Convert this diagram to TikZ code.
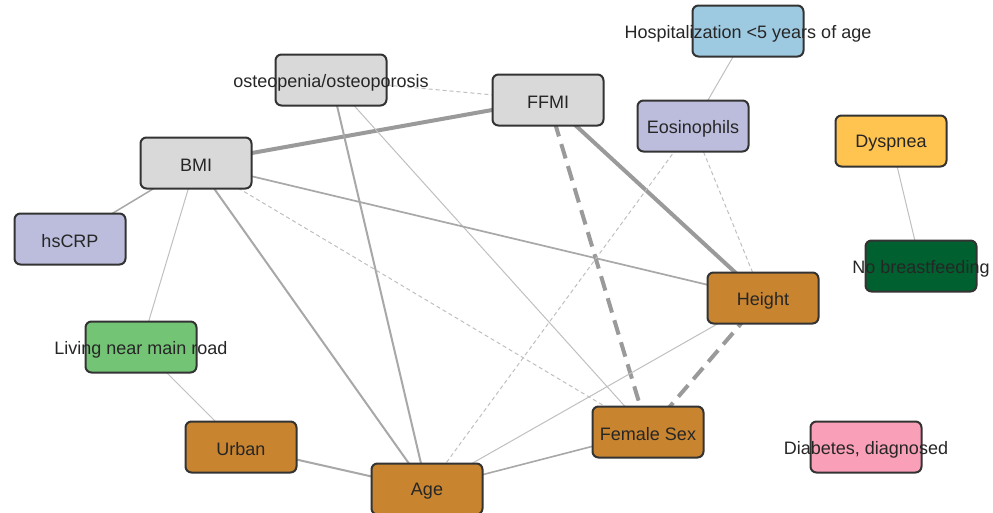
\documentclass[tikz,border=0pt]{standalone}
\usepackage{fontspec}
\setmainfont{Liberation Sans}
\usetikzlibrary{backgrounds}
\definecolor{boxline}{HTML}{333333}
\definecolor{cgrey}{HTML}{D9D9D9}
\definecolor{clav}{HTML}{BCBDDC}
\definecolor{cblue}{HTML}{9ECAE1}
\definecolor{cyel}{HTML}{FEC44F}
\definecolor{cdgreen}{HTML}{00602F}
\definecolor{cbrown}{HTML}{C8842F}
\definecolor{cgreen}{HTML}{74C476}
\definecolor{cpink}{HTML}{F99FB8}
\definecolor{ethick}{HTML}{9A9A9A}
\definecolor{emed}{HTML}{A8A8A8}
\definecolor{ethin}{HTML}{C0C0C0}
\tikzset{
  x=1pt,y=-1pt,
  nbox/.style={draw=boxline, line width=2pt, rounded corners=6pt,
    minimum width=111pt, minimum height=51pt, inner sep=0pt},
  ntext/.style={font=\fontsize{18}{21}\selectfont, text=black!85, yshift=-2.5pt},
  thickline/.style={draw=ethick, line width=4pt},
  thickdash/.style={draw=ethick, line width=4pt, dash pattern=on 15pt off 8pt},
  medline/.style={draw=emed, line width=2pt},
  thinline/.style={draw=ethin, line width=1pt},
  thindash/.style={draw=ethin, line width=1pt, dash pattern=on 4pt off 3pt},
}
\begin{document}
\begin{tikzpicture}
\useasboundingbox (0,0) rectangle (993,512);
\node[nbox, fill=cgrey,  label={[ntext]center:osteopenia/osteoporosis}] (ost) at (331,80) {};
\node[nbox, fill=cgrey,  label={[ntext]center:FFMI}] (ffmi) at (548,100) {};
\node[nbox, fill=cgrey,  label={[ntext]center:BMI}] (bmi) at (196,163) {};
\node[nbox, fill=clav,   label={[ntext]center:hsCRP}] (crp) at (70,239) {};
\node[nbox, fill=cblue,  label={[ntext]center:Hospitalization <5 years of age}] (hosp) at (748,31) {};
\node[nbox, fill=clav,   label={[ntext]center:Eosinophils}] (eos) at (693,126) {};
\node[nbox, fill=cyel,   label={[ntext]center:Dyspnea}] (dysp) at (891,141) {};
\node[nbox, fill=cdgreen,label={[ntext]center:No breastfeeding}] (nobf) at (921,266) {};
\node[nbox, fill=cbrown, label={[ntext]center:Height}] (height) at (763,298) {};
\node[nbox, fill=cgreen, label={[ntext]center:Living near main road}] (road) at (141,347) {};
\node[nbox, fill=cbrown, label={[ntext]center:Urban}] (urban) at (241,447) {};
\node[nbox, fill=cbrown, label={[ntext]center:Age}] (age) at (427,489) {};
\node[nbox, fill=cbrown, label={[ntext]center:Female Sex}] (fem) at (648,432) {};
\node[nbox, fill=cpink,  label={[ntext]center:Diabetes, diagnosed}] (diab) at (866,447) {};
\begin{scope}[on background layer]
\fill[white] (0,0) rectangle (993,512);
\draw[thindash] (ost.center) -- (ffmi.center);
\draw[thickline] (bmi.center) -- (ffmi.center);
\draw[medline] (ost.center) -- (age.center);
\draw[thinline] (ost.center) -- (fem.center);
\draw[medline, line width=1.5pt] (bmi.center) -- (crp.center);
\draw[thinline] (bmi.center) -- (road.center);
\draw[medline] (bmi.center) -- (age.center);
\draw[thindash] (bmi.center) -- (fem.center);
\draw[medline, line width=1.7pt] (bmi.center) -- (height.center);
\draw[thickdash] (ffmi.center) -- (fem.center);
\draw[thickline] (ffmi.center) -- (height.center);
\draw[thinline] (hosp.center) -- (eos.center);
\draw[thindash] (eos.center) -- (age.center);
\draw[thindash] (eos.center) -- (height.center);
\draw[thinline] (dysp.center) -- (nobf.center);
\draw[thickdash] (height.center) -- (fem.center);
\draw[thinline] (height.center) -- (age.center);
\draw[medline, line width=1.6pt] (fem.center) -- (age.center);
\draw[thinline] (road.center) -- (urban.center);
\draw[medline] (urban.center) -- (age.center);
\end{scope}
\end{tikzpicture}
\end{document}
